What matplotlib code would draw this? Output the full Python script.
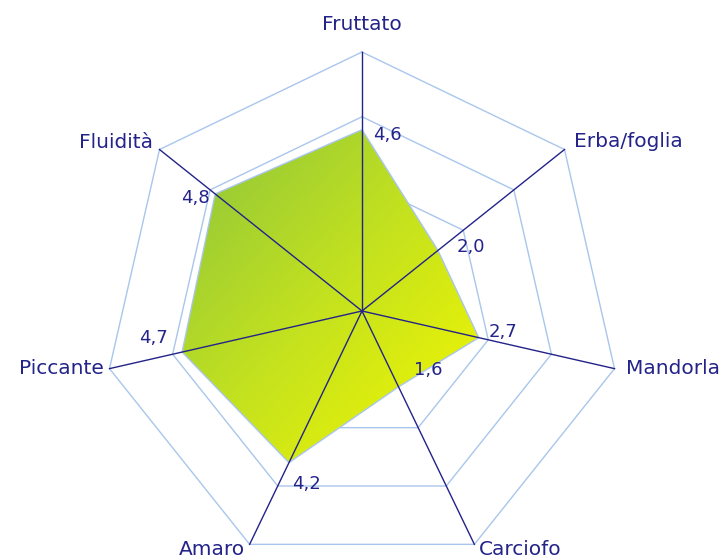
import numpy as np
import matplotlib.pyplot as plt
from matplotlib.colors import LinearSegmentedColormap
from matplotlib.patches import Polygon

# attributi e punteggi
categories = ["Fruttato", "Erba/foglia", "Mandorla", "Carciofo", "Amaro", "Piccante", "Fluidità"]
values = [4.6, 2.0, 2.7, 1.6, 4.2, 4.7, 4.8]
value_labels = ["4,6", "2,0", "2,7", "1,6", "4,2", "4,7", "4,8"]
rings = [1, 3, 5, 7]
vmin, vmax = -1, 7

navy = "#23238a"
grid_col = "#a9c6ec"

n = len(categories)
ang = np.deg2rad(90 - np.arange(n) * 360 / n)


def xy(v):
    r = (np.asarray(v, dtype=float) - vmin) / (vmax - vmin)
    return r * np.cos(ang), r * np.sin(ang)


fig = plt.figure(figsize=(7.26, 5.59), dpi=100)
ax = fig.add_axes([0, 0, 1, 1])
R = 259
ax.set_xlim(-362 / R, (726 - 362) / R)
ax.set_ylim(-(559 - 311) / R, 311 / R)
ax.axis("off")

# anelli
for rv in rings:
    gx, gy = xy([rv] * n)
    ax.plot(np.append(gx, gx[0]), np.append(gy, gy[0]), color=grid_col, lw=1.0, zorder=1)

# area con sfumatura
px, py = xy(values)
poly = Polygon(np.column_stack([px, py]), closed=True, facecolor="none",
               edgecolor=grid_col, lw=1.0, zorder=3)
ax.add_patch(poly)
cmap = LinearSegmentedColormap.from_list("oil", ["#8cc43e", "#c4e21e", "#f6f800"])
gxs, gys = np.meshgrid(np.linspace(-1, 1, 300), np.linspace(-1, 1, 300))
grad = (gxs - gys) / 2
im = ax.imshow(grad, extent=[px.min(), px.max(), py.min(), py.max()], origin="lower",
               cmap=cmap, zorder=2, aspect="auto", interpolation="bilinear")
clip = Polygon(np.column_stack([px, py]), closed=True, transform=ax.transData)
im.set_clip_path(clip)

# raggi
ox, oy = xy([vmax] * n)
for x1, y1 in zip(ox, oy):
    ax.plot([0, x1], [0, y1], color=navy, lw=1.0, zorder=4)

# nomi degli attributi (offset in pixel)
label_pos = [
    dict(xytext=(0, 27), ha="center", va="center"),
    dict(xytext=(10, 8), ha="left", va="center"),
    dict(xytext=(11, 0), ha="left", va="center"),
    dict(xytext=(4, -5), ha="left", va="center"),
    dict(xytext=(-5, -5), ha="right", va="center"),
    dict(xytext=(-6, 0), ha="right", va="center"),
    dict(xytext=(-7, 7), ha="right", va="center"),
]
for cat, x1, y1, kw in zip(categories, ox, oy, label_pos):
    ax.annotate(cat, (x1, y1), textcoords="offset pixels", fontsize=14.5,
                color=navy, family="DejaVu Sans", **kw)

# etichette dei valori
val_pos = [
    dict(xytext=(11, -5), ha="left", va="center"),
    dict(xytext=(19, 3), ha="left", va="center"),
    dict(xytext=(10, 6), ha="left", va="center"),
    dict(xytext=(15, 17), ha="left", va="center"),
    dict(xytext=(3, -21), ha="left", va="center"),
    dict(xytext=(-14, 14), ha="right", va="center"),
    dict(xytext=(-6, -4), ha="right", va="center"),
]
for lab, x1, y1, kw in zip(value_labels, px, py, val_pos):
    ax.annotate(lab, (x1, y1), textcoords="offset pixels", fontsize=13,
                color=navy, family="DejaVu Sans", zorder=5, **kw)

fig.savefig("out.png", dpi=100)
